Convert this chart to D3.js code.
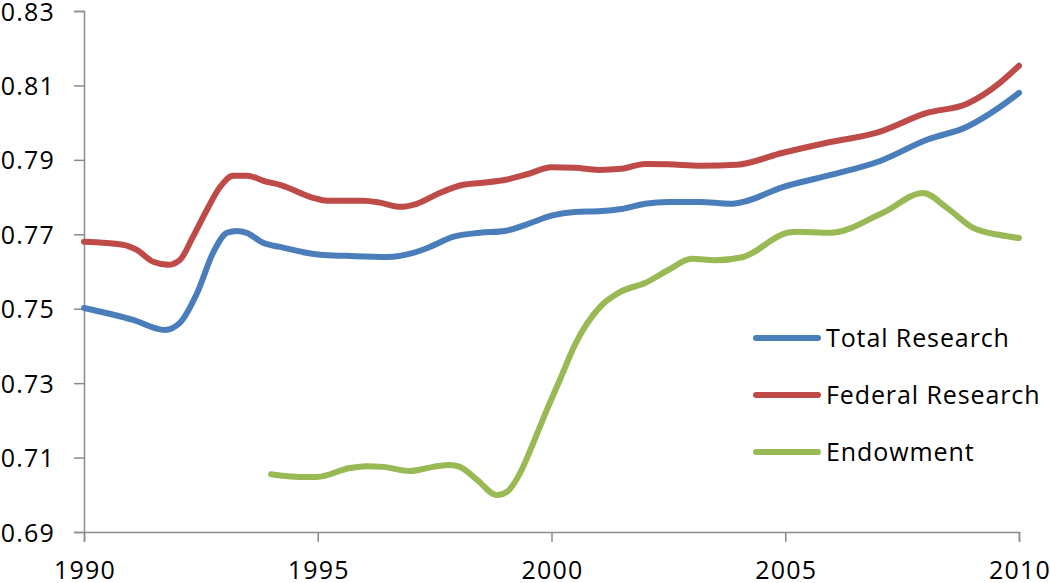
<!DOCTYPE html>
<html>
<head>
<meta charset="utf-8">
<script src="https://cdn.jsdelivr.net/npm/d3@7"></script>
<style>
  html, body { margin: 0; padding: 0; background: #fff; }
  svg { display: block; }
  text { font-family: "Open Sans", "Noto Sans", sans-serif; fill: #000; }
</style>
</head>
<body>
<svg id="chart" width="1050" height="583"></svg>
<script>
// ---- Data ----
const seriesNames = ["Total Research", "Federal Research", "Endowment"];
const seriesColors = ["#4A7EBB", "#BE4B48", "#98B954"];

const totalYears = [1990.0, 1991.05, 1991.73, 1992.05, 1992.42, 1992.76, 1993.06, 1993.27, 1993.48, 1993.83, 1994.19, 1995.05, 1995.63, 1996.48, 1997.04, 1997.4, 1997.89, 1998.47, 1999.0, 1999.5, 2000.0, 2000.5, 2001.0, 2001.5, 2002.0, 2002.5, 2003.18, 2003.82, 2004.1, 2004.95, 2005.89, 2007.03, 2008.03, 2008.89, 2009.59, 2010.0];
const totalValues = [0.7502, 0.7470, 0.7443, 0.7462, 0.7542, 0.7650, 0.7704, 0.7709, 0.7704, 0.7677, 0.7666, 0.7645, 0.7642, 0.7639, 0.7650, 0.7666, 0.7693, 0.7704, 0.7709, 0.7728, 0.7750, 0.7760, 0.7762, 0.7768, 0.7782, 0.7787, 0.7787, 0.7782, 0.7787, 0.7827, 0.7857, 0.7897, 0.7954, 0.7989, 0.8042, 0.8080];

const federalYears = [1990.0, 1990.83, 1991.13, 1991.48, 1991.8, 1992.05, 1992.33, 1992.63, 1992.91, 1993.19, 1993.49, 1993.91, 1994.19, 1994.9, 1995.2, 1995.97, 1996.33, 1996.76, 1997.12, 1997.61, 1998.11, 1998.47, 1999.0, 1999.5, 2000.0, 2000.5, 2001.0, 2001.5, 2002.0, 2002.5, 2003.18, 2003.97, 2004.95, 2005.89, 2006.96, 2008.03, 2008.89, 2009.59, 2010.0];
const federalValues = [0.7680, 0.7672, 0.7658, 0.7626, 0.7618, 0.7631, 0.7693, 0.7766, 0.7827, 0.7857, 0.7857, 0.7841, 0.7833, 0.7798, 0.7790, 0.7790, 0.7785, 0.7774, 0.7782, 0.7811, 0.7833, 0.7838, 0.7846, 0.7862, 0.7880, 0.7879, 0.7873, 0.7876, 0.7889, 0.7888, 0.7884, 0.7887, 0.7919, 0.7946, 0.7973, 0.8026, 0.8051, 0.8107, 0.8153];

const endowYears = [1994.0, 1994.62, 1994.98, 1995.69, 1996.05, 1996.4, 1996.97, 1997.47, 1997.83, 1998.04, 1998.41, 1998.83, 1999.05, 1999.33, 1999.61, 1999.9, 2000.18, 2000.5, 2001.04, 2001.47, 2002.0, 2002.5, 2003.0, 2003.5, 2004.1, 2005.04, 2005.25, 2005.96, 2007.09, 2007.95, 2008.46, 2009.02, 2009.59, 2010.0];
const endowValues = [0.7055, 0.7048, 0.7048, 0.7072, 0.7077, 0.7075, 0.7064, 0.7075, 0.7080, 0.7075, 0.7040, 0.6999, 0.7008, 0.7059, 0.7139, 0.7228, 0.7309, 0.7403, 0.7505, 0.7545, 0.7569, 0.7604, 0.7634, 0.7630, 0.7639, 0.7704, 0.7707, 0.7704, 0.7758, 0.7811, 0.7771, 0.7717, 0.7698, 0.7690];

const xTickValues = [1990, 1995, 2000, 2005, 2010];
const yTickValues = [0.69, 0.71, 0.73, 0.75, 0.77, 0.79, 0.81, 0.83];

const seriesYears = [totalYears, federalYears, endowYears];
const seriesValues = [totalValues, federalValues, endowValues];

// ---- Layout ----
const svg = d3.select("#chart");
const plotLeft = 84, plotRight = 1019, plotTop = 11, plotBottom = 532;

const x = d3.scaleLinear().domain([1990, 2010]).range([plotLeft, plotRight]);
const y = d3.scaleLinear().domain([0.69, 0.83]).range([plotBottom, plotTop]);

const axisColor = "#8c8c8c";

// Y axis
const yAxis = svg.append("g")
  .attr("transform", `translate(${plotLeft},0)`)
  .call(d3.axisLeft(y).tickValues(yTickValues).tickSize(10).tickPadding(0).tickFormat(d3.format(".2f")));
yAxis.select(".domain").attr("stroke", axisColor).attr("stroke-width", 1.5);
yAxis.selectAll(".tick line").attr("stroke", axisColor).attr("stroke-width", 1.5);
yAxis.selectAll(".tick text")
  .attr("x", -29)
  .attr("dy", "0.36em")
  .style("font-size", "25px")
  .style("letter-spacing", "1.2px")
  .attr("fill", "#000");

// X axis
const xAxis = svg.append("g")
  .attr("transform", `translate(0,${plotBottom})`)
  .call(d3.axisBottom(x).tickValues(xTickValues).tickSize(10).tickPadding(0).tickFormat(d3.format("d")));
xAxis.select(".domain").attr("stroke", axisColor).attr("stroke-width", 1.5);
xAxis.selectAll(".tick line").attr("stroke", axisColor).attr("stroke-width", 1.5);
xAxis.selectAll(".tick text")
  .attr("y", 47)
  .attr("dy", 0)
  .attr("dx", "0.6px")
  .style("font-size", "25px")
  .style("letter-spacing", "1.2px")
  .attr("fill", "#000");

// Lines
const line = d3.line()
  .x(d => x(d[0]))
  .y(d => y(d[1]))
  .curve(d3.curveMonotoneX);

seriesNames.forEach((name, i) => {
  const pts = seriesYears[i].map((yr, j) => [yr, seriesValues[i][j]]);
  svg.append("path")
    .datum(pts)
    .attr("fill", "none")
    .attr("stroke", seriesColors[i])
    .attr("stroke-width", 6)
    .attr("stroke-linecap", "round")
    .attr("stroke-linejoin", "round")
    .attr("d", line);
});

// Legend
const legend = svg.append("g");
const legendY = [338, 395, 452];
seriesNames.forEach((name, i) => {
  legend.append("line")
    .attr("x1", 756).attr("x2", 818)
    .attr("y1", legendY[i]).attr("y2", legendY[i])
    .attr("stroke", seriesColors[i])
    .attr("stroke-width", 6)
    .attr("stroke-linecap", "round");
  legend.append("text")
    .attr("x", 826)
    .attr("y", legendY[i])
    .attr("dy", "0.36em")
    .style("font-size", "25px")
    .style("letter-spacing", "0.9px")
    .text(name);
});
</script>
</body>
</html>
